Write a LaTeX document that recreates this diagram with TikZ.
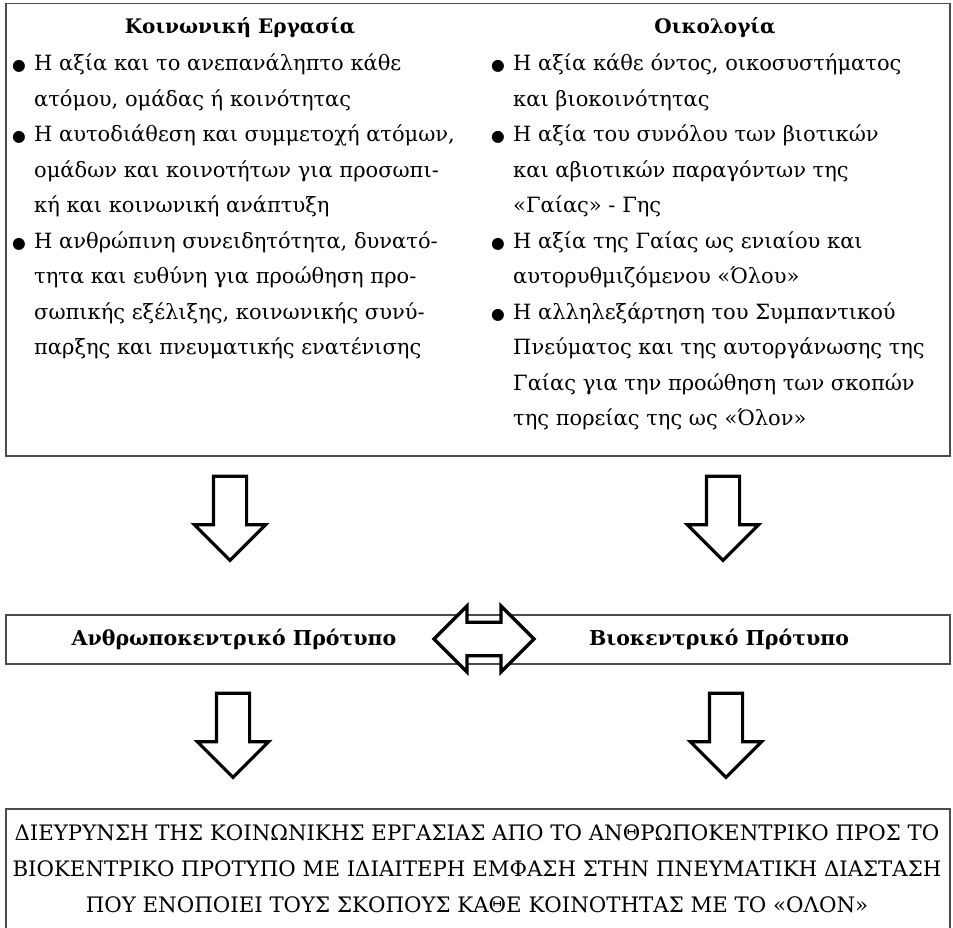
\documentclass[tikz,border=0pt]{standalone}
\usepackage{fontspec}
\setmainfont{DejaVu Serif}
\usetikzlibrary{shapes.arrows}

\newcommand{\bl}{\makebox[22pt][l]{\scalebox{0.75}{●}}} % κουκκίδα
\newcommand{\cl}{\hspace*{22pt}} % εσοχή συνέχειας

\begin{document}
\begin{tikzpicture}[
            x=1pt, y=-1pt, % μονάδα = ένα pixel
            frame/.style={draw=black!70, line width=1.5pt, inner sep=0, anchor=north west}, % πλαίσια
            head/.style={font=\fontsize{20}{24}\selectfont\bfseries}, % τίτλοι στηλών
            col/.style={
                align=left, % στοίχιση αριστερά
                anchor=north west,
                inner sep=0, % χωρίς περιθώριο
                font=\fontsize{21}{35.5}\selectfont % μέγεθος γραμμάτων
            },
            model/.style={font=\fontsize{20.5}{24}\selectfont\bfseries}, % πρότυπα
            goal/.style={align=center, inner sep=0, font=\fontsize{21.3}{36}\selectfont}, % συμπέρασμα
            downarrow/.style={
                single arrow, draw, fill=white, line width=3.2pt,
                shape border rotate=270, % προς τα κάτω
                minimum width=70, minimum height=84,
                single arrow head extend=19, inner sep=15
            },
            bothways/.style={
                double arrow, draw, fill=white, line width=3.2pt,
                minimum width=66, minimum height=100,
                double arrow head extend=16, inner sep=15
            }
        ]
        \useasboundingbox (0,0) rectangle (953,928);

        % πάνω πλαίσιο με τις δύο στήλες
        \node[frame, minimum width=944, minimum height=452] (values) at (5,3) {};
        \node[head] (ergT) at (240,28) {Κοινωνική Εργασία};
        \node[head] (oikT) at (715,28) {Οικολογία};
        \node[col] (ergL) at (12,54) {%
            \bl Η αξία και το ανεπανάληπτο κάθε\\
            \cl ατόμου, ομάδας ή κοινότητας\\
            \bl Η αυτοδιάθεση και συμμετοχή ατόμων,\\
            \cl ομάδων και κοινοτήτων για προσωπι-\\
            \cl κή και κοινωνική ανάπτυξη\\
            \bl Η ανθρώπινη συνειδητότητα, δυνατό-\\
            \cl τητα και ευθύνη για προώθηση προ-\\
            \cl σωπικής εξέλιξης, κοινωνικής συνύ-\\
            \cl παρξης και πνευματικής ενατένισης};
        \node[col] (oikL) at (491,54) {%
            \bl Η αξία κάθε όντος, οικοσυστήματος\\
            \cl και βιοκοινότητας\\
            \bl Η αξία του συνόλου των βιοτικών\\
            \cl και αβιοτικών παραγόντων της\\
            \cl «Γαίας» - Γης\\
            \bl Η αξία της Γαίας ως ενιαίου και\\
            \cl αυτορυθμιζόμενου «Όλου»\\
            \bl Η αλληλεξάρτηση του Συμπαντικού\\
            \cl Πνεύματος και της αυτοργάνωσης της\\
            \cl Γαίας για την προώθηση των σκοπών\\
            \cl της πορείας της ως «Όλον»};

        % μεσαίο πλαίσιο με τα δύο πρότυπα
        \node[frame, minimum width=944, minimum height=49] (models) at (5,614) {};
        \node[model] (anthro) at (234,639) {Ανθρωποκεντρικό Πρότυπο};
        \node[model] (bio) at (719,639) {Βιοκεντρικό Πρότυπο};

        % κάτω πλαίσιο
        \node[frame, minimum width=944, minimum height=140] (goalbox) at (5,808) {};
        \node[goal] (goal) at (477,869) {%
            ΔΙΕΥΡΥΝΣΗ ΤΗΣ ΚΟΙΝΩΝΙΚΗΣ ΕΡΓΑΣΙΑΣ ΑΠΟ ΤΟ ΑΝΘΡΩΠΟΚΕΝΤΡΙΚΟ ΠΡΟΣ ΤΟ\\
            ΒΙΟΚΕΝΤΡΙΚΟ ΠΡΟΤΥΠΟ ΜΕ ΙΔΙΑΙΤΕΡΗ ΕΜΦΑΣΗ ΣΤΗΝ ΠΝΕΥΜΑΤΙΚΗ ΔΙΑΣΤΑΣΗ\\
            ΠΟΥ ΕΝΟΠΟΙΕΙ ΤΟΥΣ ΣΚΟΠΟΥΣ ΚΑΘΕ ΚΟΙΝΟΤΗΤΑΣ ΜΕ ΤΟ «ΟΛΟΝ»};

        % βέλη
        \node[downarrow] (ergDown) at (230,510) {};
        \node[downarrow] (oikDown) at (723,510) {};
        \node[bothways] (swap) at (484,639) {};
        \node[downarrow] (anthroDown) at (233,727) {};
        \node[downarrow] (bioDown) at (726,727) {};
\end{tikzpicture}
\end{document}
